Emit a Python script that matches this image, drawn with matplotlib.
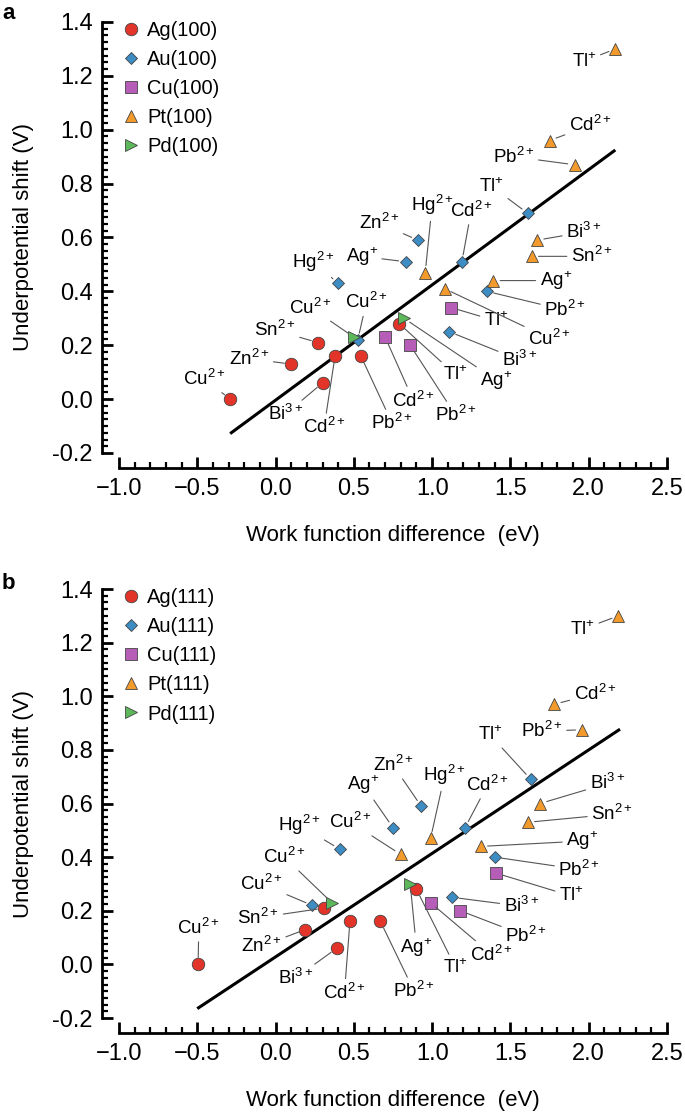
import matplotlib
matplotlib.use('Agg')
import matplotlib.pyplot as plt
from matplotlib.ticker import MultipleLocator

FONT = 'Liberation Sans'
plt.rcParams['font.family'] = [FONT, 'DejaVu Sans']
plt.rcParams['mathtext.fontset'] = 'custom'
plt.rcParams['mathtext.rm'] = FONT
plt.rcParams['mathtext.it'] = FONT

# ---- panel a : (100) surfaces ----
ag100_ions = ['Cu2+', 'Zn2+', 'Sn2+', 'Bi3+', 'Cd2+', 'Pb2+', 'Tl+']
ag100_x = [-0.29, 0.10, 0.27, 0.30, 0.38, 0.545, 0.79]
ag100_y = [0.00, 0.13, 0.21, 0.06, 0.16, 0.16, 0.28]

au100_ions = ['Hg2+', 'Ag+', 'Zn2+', 'Cd2+', 'Tl+', 'Cu2+', 'Pb2+', 'Bi3+']
au100_x = [0.40, 0.83, 0.91, 1.19, 1.61, 0.525, 1.35, 1.11]
au100_y = [0.43, 0.51, 0.59, 0.51, 0.69, 0.22, 0.40, 0.25]

cu100_ions = ['Cd2+', 'Pb2+', 'Tl+']
cu100_x = [0.70, 0.86, 1.12]
cu100_y = [0.23, 0.20, 0.34]

pt100_ions = ['Tl+', 'Cd2+', 'Pb2+', 'Bi3+', 'Sn2+', 'Ag+', 'Cu2+', 'Hg2+']
pt100_x = [2.17, 1.75, 1.91, 1.67, 1.635, 1.39, 1.08, 0.956]
pt100_y = [1.30, 0.96, 0.87, 0.59, 0.53, 0.44, 0.41, 0.47]

pd100_ions = ['Cu2+', 'Ag+']
pd100_x = [0.50, 0.82]
pd100_y = [0.23, 0.30]

fit_a = (0.428, -0.004)      # slope, intercept
fit_a_range = (-0.29, 2.17)

# ---- panel b : (111) surfaces ----
ag111_ions = ['Cu2+', 'Zn2+', 'Sn2+', 'Bi3+', 'Cd2+', 'Pb2+', 'Tl+']
ag111_x = [-0.495, 0.19, 0.31, 0.39, 0.475, 0.67, 0.90]
ag111_y = [0.00, 0.13, 0.21, 0.06, 0.16, 0.16, 0.28]

au111_ions = ['Cu2+', 'Hg2+', 'Ag+', 'Zn2+', 'Cd2+', 'Tl+', 'Pb2+', 'Bi3+']
au111_x = [0.235, 0.41, 0.75, 0.93, 1.21, 1.63, 1.40, 1.13]
au111_y = [0.22, 0.43, 0.51, 0.59, 0.51, 0.69, 0.40, 0.25]

cu111_ions = ['Cd2+', 'Pb2+', 'Tl+']
cu111_x = [0.99, 1.18, 1.41]
cu111_y = [0.23, 0.20, 0.34]

pt111_ions = ['Tl+', 'Cd2+', 'Pb2+', 'Bi3+', 'Sn2+', 'Ag+', 'Hg2+', 'Cu2+']
pt111_x = [2.19, 1.78, 1.96, 1.69, 1.61, 1.31, 0.99, 0.80]
pt111_y = [1.30, 0.97, 0.875, 0.60, 0.53, 0.44, 0.47, 0.41]

pd111_ions = ['Cu2+', 'Ag+']
pd111_x = [0.36, 0.86]
pd111_y = [0.23, 0.30]

fit_b = (0.386, 0.028)
fit_b_range = (-0.50, 2.20)

# label placement (data coords) per series, same order as the ion lists
lab_a = {
    'Ag': [(-0.455, 0.075), (-0.17, 0.15), (-0.005, 0.256), (0.065, -0.055),
           (0.31, -0.105), (0.745, -0.09), (1.15, 0.09)],
    'Au': [(0.24, 0.51), (0.55, 0.53), (0.66, 0.654), (1.25, 0.70),
           (1.38, 0.79), (0.58, 0.36), (1.85, 0.33), (1.56, 0.145)],
    'Cu': [(0.88, -0.005), (1.15, -0.06), (1.41, 0.29)],
    'Pt': [(1.97, 1.254), (2.01, 1.016), (1.52, 0.90), (1.97, 0.62),
           (2.02, 0.53), (1.79, 0.44), (1.75, 0.225), (1.0, 0.72)],
    'Pd': [(0.225, 0.34), (1.41, 0.07)],
}
lab_b = {
    'Ag': [(-0.49, 0.137), (-0.09, 0.068), (-0.11, 0.174), (0.13, -0.05),
           (0.44, -0.106), (0.885, -0.10), (1.15, -0.012)],
    'Au': [(-0.09, 0.30), (0.15, 0.52), (0.56, 0.67), (0.75, 0.744),
           (1.355, 0.67), (1.37, 0.856), (1.94, 0.354), (1.57, 0.217)],
    'Cu': [(1.38, 0.037), (1.60, 0.106), (1.89, 0.255)],
    'Pt': [(1.96, 1.25), (2.04, 1.01), (1.70, 0.87), (2.12, 0.675),
           (2.15, 0.56), (1.96, 0.46), (1.08, 0.706), (0.48, 0.53)],
    'Pd': [(0.057, 0.40), (0.90, 0.062)],
}

styles = {
    'Ag': dict(marker='o', color='#e3342a', ms=9),
    'Au': dict(marker='D', color='#3d8dc4', ms=6.5),
    'Cu': dict(marker='s', color='#b65db8', ms=8.5),
    'Pt': dict(marker='^', color='#f39a2c', ms=9),
    'Pd': dict(marker='>', color='#5cb85a', ms=9),
}


def ion_tex(ion):
    el = ion.rstrip('+0123456789')
    ch = ion[len(el):]
    return el + r'$^{\mathregular{' + ch + '}}$'


def draw_panel(ax, series, labels, fit, fit_range, facet):
    xs = list(fit_range)
    ax.plot(xs, [fit[0] * v + fit[1] for v in xs], color='black', lw=2.2,
            solid_capstyle='butt', zorder=2)
    for name, (ions, x, y) in series.items():
        st = styles[name]
        ax.plot(x, y, ls='none', marker=st['marker'], ms=st['ms'],
                mfc=st['color'], mec='#444444', mew=0.6, zorder=3,
                label=f'{name}({facet})')
        for ion, px, py, (lx, ly) in zip(ions, x, y, labels[name]):
            ax.annotate(ion_tex(ion), xy=(px, py), xytext=(lx, ly),
                        ha='center', va='center', fontsize=13.5,
                        arrowprops=dict(arrowstyle='-', color='#555555',
                                        lw=0.8, shrinkA=1, shrinkB=5),
                        zorder=4)

    ax.set_xlim(-1.0, 2.5)
    ax.set_ylim(-0.2, 1.4)
    for s in ['top', 'right']:
        ax.spines[s].set_visible(False)
    ax.spines['left'].set_position(('outward', 12))
    ax.spines['bottom'].set_position(('outward', 11))
    ax.spines['left'].set_bounds(-0.2, 1.4)
    ax.spines['bottom'].set_bounds(-1.0, 2.5)
    ax.spines['left'].set_linewidth(2)
    ax.spines['bottom'].set_linewidth(2)
    ax.xaxis.set_major_locator(MultipleLocator(0.5))
    ax.xaxis.set_minor_locator(MultipleLocator(0.1))
    ax.yaxis.set_major_locator(MultipleLocator(0.2))
    ax.yaxis.set_minor_locator(MultipleLocator(0.025))
    ax.tick_params(which='major', direction='in', length=8, width=2,
                   labelsize=17, pad=7)
    ax.tick_params(which='minor', direction='in', length=4.5, width=1.6)
    ax.xaxis.set_major_formatter(plt.FuncFormatter(
        lambda v, p: f'{v:.1f}'.replace('-', '\u2212')))
    ax.yaxis.set_major_formatter(plt.FuncFormatter(lambda v, p: f'{v:.1f}'))
    ax.set_xlabel('Work function difference  (eV)', fontsize=16, labelpad=18)
    ax.set_ylabel('Underpotential shift (V)', fontsize=16, labelpad=13)
    ax.legend(loc='upper left', bbox_to_anchor=(-0.015, 1.03), frameon=False,
              fontsize=14.5, handlelength=0.8, handletextpad=0.4,
              labelspacing=0.5, borderaxespad=0.2)


fig = plt.figure(figsize=(6.85, 11.16), dpi=100)
ax_a = fig.add_axes([0.1737, 0.5941, 0.80, 0.3862])
ax_b = fig.add_axes([0.1737, 0.0878, 0.80, 0.3844])

draw_panel(ax_a, {
    'Ag': (ag100_ions, ag100_x, ag100_y),
    'Au': (au100_ions, au100_x, au100_y),
    'Cu': (cu100_ions, cu100_x, cu100_y),
    'Pt': (pt100_ions, pt100_x, pt100_y),
    'Pd': (pd100_ions, pd100_x, pd100_y),
}, lab_a, fit_a, fit_a_range, '100')

draw_panel(ax_b, {
    'Ag': (ag111_ions, ag111_x, ag111_y),
    'Au': (au111_ions, au111_x, au111_y),
    'Cu': (cu111_ions, cu111_x, cu111_y),
    'Pt': (pt111_ions, pt111_x, pt111_y),
    'Pd': (pd111_ions, pd111_x, pd111_y),
}, lab_b, fit_b, fit_b_range, '111')

fig.text(0.003, 0.997, 'a', fontsize=16, fontweight='bold', va='top')
fig.text(0.003, 0.487, 'b', fontsize=16, fontweight='bold', va='top')

fig.savefig('out.png', dpi=100)
